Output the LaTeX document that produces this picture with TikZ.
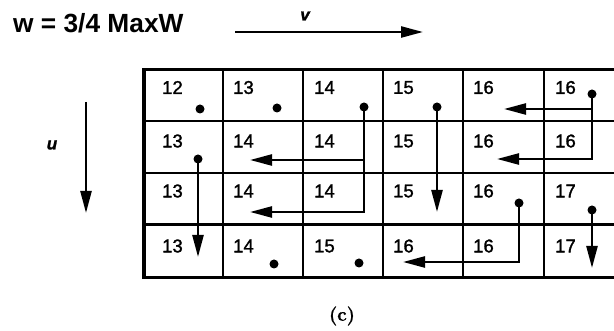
\documentclass[tikz,border=0pt]{standalone}
\usepackage{fontspec}
\setmainfont{Liberation Sans}
\newfontfamily\numfont[FakeBold=1.5]{Liberation Sans}
\newfontfamily\capfont[FakeBold=1]{Latin Modern Roman}
\usetikzlibrary{arrows.meta}

\tikzset{
  grid line/.style={line width=2.4pt},
  frame line/.style={line width=3.4pt},
  flow/.style={line width=2.4pt, -{Triangle[length=22pt,width=11pt]}},
  pip/.style={circle, fill=black, inner sep=0pt, minimum size=9pt},
  val/.style={anchor=west, inner sep=0pt, font=\numfont\fontsize{18.5}{18.5}\selectfont},
  axislabel/.style={font=\numfont\fontsize{17}{17}\selectfont\itshape\bfseries},
}

\begin{document}
\begin{tikzpicture}[x=1pt,y=-1pt]
\useasboundingbox (0,0) rectangle (614,331);

% heading and axes
\node[anchor=base west, inner sep=0pt, font=\bfseries\fontsize{26.3}{26.3}\selectfont] (title) at (13,33) {w = 3/4 MaxW};
\coordinate (v0) at (235,32);
\coordinate (v1) at (423,32);
\draw[flow] (v0) -- (v1);
\node[axislabel] (vlab) at (305,16) {v};
\coordinate (u0) at (86,102);
\coordinate (u1) at (86,213);
\draw[flow] (u0) -- (u1);
\node[axislabel] (ulab) at (52,145) {u};

% grid
\begin{scope}
\clip (0,0) rectangle (614,331);
\foreach \x in {223,303,383,463,544}
  \draw[grid line] (\x,69.5) -- (\x,277.5);
\foreach \y in {121,173,224.5}
  \draw[grid line] (144,\y) -- (620,\y);
\draw[frame line] (620,69.5) -- (144,69.5) -- (144,277.5) -- (620,277.5);
\end{scope}

% cell values
\foreach \r/\y/\vals in {1/87.5/{12,13,14,15,16,16},2/141/{13,14,14,15,16,16},3/191/{13,14,14,15,16,17},4/246/{13,14,15,16,16,17}}{
  \foreach \v [count=\c] in \vals {
    \pgfmathsetmacro{\xl}{{162,233,314,393,473,555}[\c-1]}
    \node[val] (n\r\c) at (\xl,\y) {\v};
  }
}

% single pips
\node[pip] (p11) at (200,109) {};
\node[pip] (p12) at (277,108) {};
\node[pip] (p42) at (274,264) {};
\node[pip] (p43) at (359,263) {};

% pips with flow arrows
\node[pip] (p13) at (364,107) {};
\node[pip] (p21) at (198,159) {};
\node[pip] (p14) at (437,107) {};
\node[pip] (p16) at (592,94) {};
\node[pip] (p35) at (519,203) {};
\node[pip] (p36) at (592,210) {};

\coordinate (a1b) at (364,212);
\coordinate (a1t) at (250,212);
\coordinate (a1m) at (364,160);
\coordinate (a1s) at (250,160);
\draw[flow] (p13.center) -- (a1b) -- (a1t);
\draw[flow] (a1m) -- (a1s);

\coordinate (a2t) at (198,257);
\draw[flow] (p21.center) -- (a2t);

\coordinate (a3t) at (437,212);
\draw[flow] (p14.center) -- (a3t);

\coordinate (a4b) at (592,159);
\coordinate (a4t) at (497,159);
\coordinate (a4m) at (592,109);
\coordinate (a4s) at (504,109);
\draw[flow] (p16.center) -- (a4b) -- (a4t);
\draw[flow] (a4m) -- (a4s);

\coordinate (a5b) at (519,262);
\coordinate (a5t) at (403,262);
\draw[flow] (p35.center) -- (a5b) -- (a5t);

\coordinate (a6t) at (592,268);
\draw[flow] (p36.center) -- (a6t);

% caption
\node[font=\capfont\bfseries\fontsize{19}{19}\selectfont] (cap) at (342,316) {(c)};
\end{tikzpicture}
\end{document}
